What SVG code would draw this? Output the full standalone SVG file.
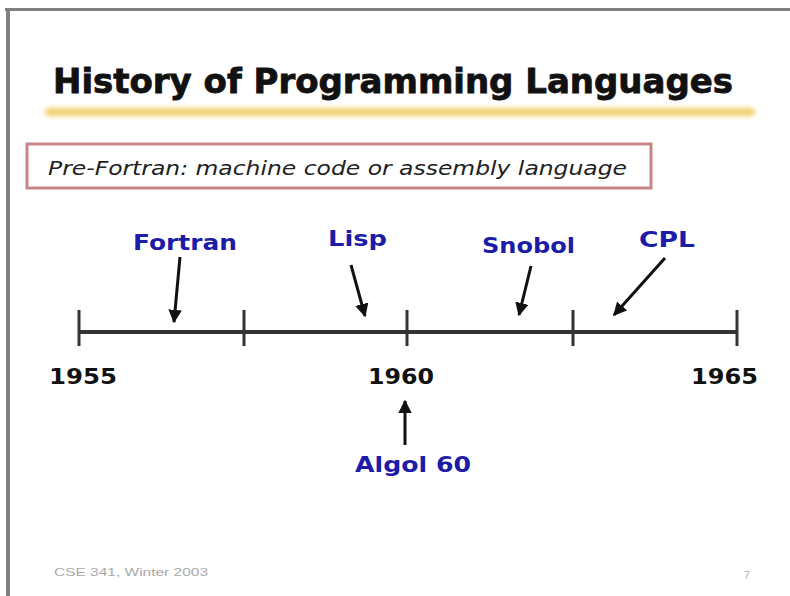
<svg xmlns="http://www.w3.org/2000/svg" width="790" height="596" viewBox="0 0 790 596">
<defs>
<marker id="ah" viewBox="0 0 10 10" refX="9" refY="5" markerWidth="4.5" markerHeight="4.5" orient="auto" markerUnits="strokeWidth">
<path d="M0,0 L10,5 L0,10 z" fill="#111"/>
</marker>
<filter id="blur" x="-5%" y="-100%" width="110%" height="300%"><feGaussianBlur stdDeviation="2.5"/></filter>
</defs>
<style>
.lbl{font-family:"DejaVu Sans","Liberation Sans",sans-serif;font-weight:bold;fill:#1c1ca8;font-size:21px}
.yr{font-family:"DejaVu Sans","Liberation Sans",sans-serif;font-weight:bold;fill:#111;font-size:21px}
.arr{stroke:#111;stroke-width:3;fill:none;marker-end:url(#ah)}
.tl{stroke:#333;stroke-width:4;fill:none}
.tick{stroke:#333;stroke-width:3}
</style>
<rect x="0" y="0" width="790" height="596" fill="#fff"/>
<rect x="5" y="8" width="785" height="3" fill="#808080"/>
<rect x="6" y="8" width="4" height="588" fill="#808080"/>
<g id="title">
<rect x="45" y="108" width="710" height="8" rx="4" fill="#f2cf6a" filter="url(#blur)"/>
<text x="53" y="93" font-family="DejaVu Sans,Liberation Sans,sans-serif" font-weight="bold" font-size="33" fill="#111" stroke="#111" stroke-width="0.8" textLength="680" lengthAdjust="spacingAndGlyphs">History of Programming Languages</text>
</g>
<g id="prefortran">
<rect x="27" y="144" width="624" height="44" fill="#fff" stroke="#c98585" stroke-width="3"/>
<text x="48" y="175" font-family="DejaVu Sans,Liberation Sans,sans-serif" font-style="italic" font-size="20" fill="#222" textLength="579" lengthAdjust="spacingAndGlyphs">Pre-Fortran: machine code or assembly language</text>
</g>
<g id="timeline">
<line class="tl" x1="79" y1="332" x2="737" y2="332"/>
<line class="tick" x1="79" y1="310" x2="79" y2="346"/>
<line class="tick" x1="244" y1="310" x2="244" y2="346"/>
<line class="tick" x1="407" y1="310" x2="407" y2="346"/>
<line class="tick" x1="573" y1="310" x2="573" y2="346"/>
<line class="tick" x1="737" y1="310" x2="737" y2="346"/>
</g>
<g id="years">
<text class="yr" x="49" y="384" textLength="68" lengthAdjust="spacingAndGlyphs">1955</text>
<text class="yr" x="368" y="384" textLength="66" lengthAdjust="spacingAndGlyphs">1960</text>
<text class="yr" x="691" y="384" textLength="67" lengthAdjust="spacingAndGlyphs">1965</text>
</g>
<g id="fortran"><text class="lbl" x="133" y="250" textLength="104" lengthAdjust="spacingAndGlyphs">Fortran</text></g>
<g id="lisp"><text class="lbl" x="328" y="246" textLength="59" lengthAdjust="spacingAndGlyphs">Lisp</text></g>
<g id="snobol"><text class="lbl" x="482" y="253" textLength="93" lengthAdjust="spacingAndGlyphs">Snobol</text></g>
<g id="cpl"><text class="lbl" x="639" y="247" textLength="56" lengthAdjust="spacingAndGlyphs">CPL</text></g>
<g id="algol60"><text class="lbl" x="355" y="472" textLength="116" lengthAdjust="spacingAndGlyphs">Algol 60</text></g>
<g id="connectors">
<line class="arr" x1="180" y1="257" x2="174" y2="322"/>
<line class="arr" x1="351" y1="265" x2="365" y2="316"/>
<line class="arr" x1="531" y1="266" x2="519" y2="315"/>
<line class="arr" x1="665" y1="258" x2="614" y2="315"/>
<line class="arr" x1="405" y1="445" x2="405" y2="401"/>
</g>
<g id="footer">
<text x="54" y="576" font-family="Liberation Sans,sans-serif" font-size="10" fill="#aaa" textLength="154" lengthAdjust="spacingAndGlyphs">CSE 341, Winter 2003</text>
<text x="744" y="579" font-family="Liberation Sans,sans-serif" font-size="10" fill="#aaa">7</text>
</g>
</svg>
